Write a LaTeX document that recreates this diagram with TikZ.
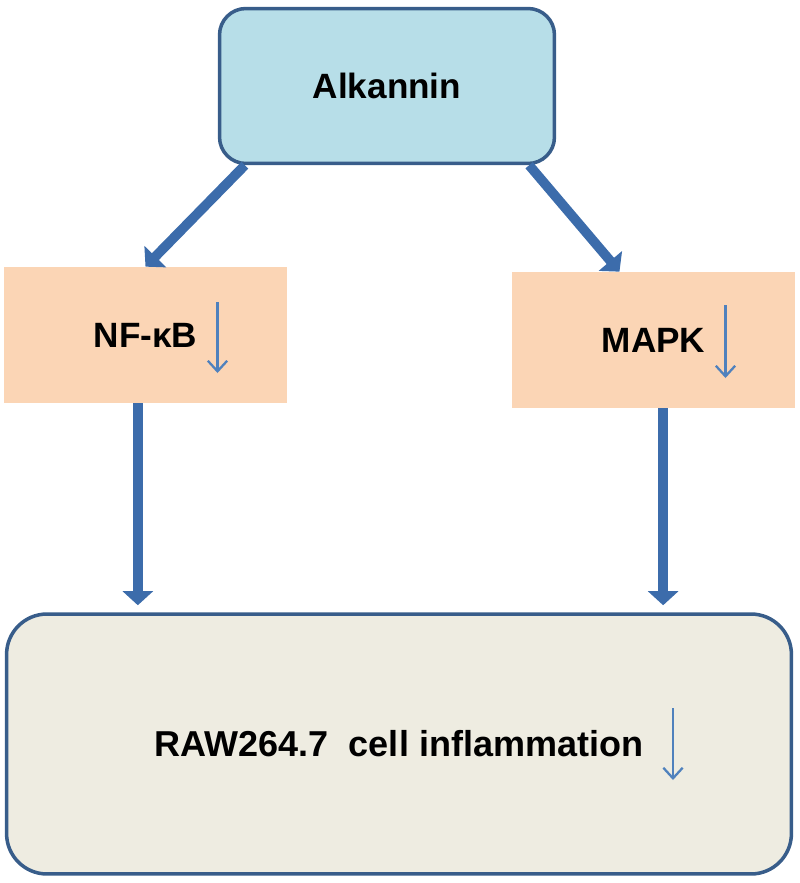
\documentclass[tikz,border=0pt]{standalone}
\usepackage{fontspec}
\setmainfont{Liberation Sans}
\usetikzlibrary{
  positioning,
  arrows.meta,
  calc
}
\definecolor{edge}{HTML}{385D8A}
\definecolor{drug}{HTML}{B7DEE8}
\definecolor{path}{HTML}{FBD5B5}
\definecolor{cell}{HTML}{EEECE1}
\definecolor{flow}{HTML}{3C6CAB}
\definecolor{lower}{HTML}{4F81BD}

\begin{document}
\begin{tikzpicture}[
  x=0.02cm, y=-0.02cm,
  drugbox/.style={draw=edge, line width=2pt, rounded corners=15pt, fill=drug,
                  minimum width=6.7cm, minimum height=3.1cm,
                  font=\fontsize{20}{24}\selectfont\bfseries},
  pathbox/.style={fill=path, minimum width=5.66cm, minimum height=2.72cm,
                  font=\fontsize{20}{24}\selectfont\bfseries},
  cellbox/.style={draw=edge, line width=2pt, rounded corners=23pt, fill=cell,
                  minimum width=15.7cm, minimum height=5.2cm,
                  font=\fontsize{20.5}{24}\selectfont\bfseries},
  arr/.style={-{Triangle[width=17pt, length=8pt]}, line width=5.5pt, flow},
  dn/.style={-{Straight Barb[length=6pt, width=11pt]}, line width=1.3pt, lower}
]
  \useasboundingbox (0,0) rectangle (800,883);

  % Drug
  \node[drugbox] (alk) at (387,86) {Alkannin};

  % Pathways
  \node[pathbox] (nfkb) at (145.5,335) {NF-κB};
  \node[pathbox] (mapk) at (653.5,340) {MAPK};

  % Cell response
  \node[cellbox] (raw) at (399,744) {RAW264.7\ \ cell inflammation};

  % Arrow ends
  \coordinate (nl) at ($(nfkb.south west)!0.473!(nfkb.south east)$);
  \coordinate (ml) at ($(mapk.south west)!0.534!(mapk.south east)$);

  % Connections
  \draw[arr] ($(alk.south west)!0.08!(alk.south east)$) -- (nfkb.north);
  \draw[arr] ($(alk.south west)!0.92!(alk.south east)$)
    -- ($(mapk.north west)!0.38!(mapk.north east)$);
  \draw[arr, shorten >=4pt] (nl) -- (nl |- raw.north);
  \draw[arr, shorten >=4pt] (ml) -- (ml |- raw.north);

  % Down marks
  \draw[dn] ($(nfkb.center)+(72,-33)$) -- ++(0,71);
  \draw[dn] ($(mapk.center)+(72,-35)$) -- ++(0,73);
  \draw[dn] ($(raw.center)+(274,-36)$) -- ++(0,72);
\end{tikzpicture}
\end{document}
